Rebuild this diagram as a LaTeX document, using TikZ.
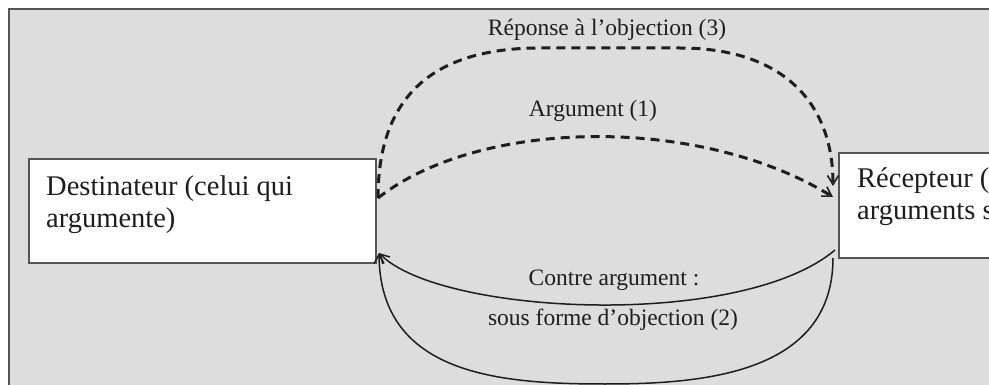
\documentclass[tikz,border=0pt]{standalone}
\usepackage{fontspec}
\setmainfont{Liberation Serif}
\usetikzlibrary{arrows.meta}
\definecolor{panel}{RGB}{221,221,221}
\definecolor{edge}{RGB}{85,85,85}
\definecolor{ink}{RGB}{30,30,30}
\tikzset{
  boxnode/.style={draw=edge, line width=1.8pt, fill=white, anchor=north west, inner sep=0pt},
  boxtext/.style={anchor=base west, inner sep=0pt, text=ink, font=\fontsize{28.5}{32}\selectfont},
  lbl/.style={inner sep=0pt, text=ink, font=\fontsize{23.5}{26}\selectfont},
  dasharrow/.style={draw=ink, line width=3pt, dash pattern=on 9pt off 6pt, -{Straight Barb[length=9pt,width=11pt,line width=1.6pt]}},
  solidarrow/.style={draw=ink, line width=1.5pt, -{Straight Barb[length=9pt,width=10pt,line width=1.5pt]}}
}
\begin{document}
\begin{tikzpicture}[x=1pt,y=-1pt]
\useasboundingbox (0,0) rectangle (989,385);
\clip (0,0) rectangle (989,385);
\fill[white] (0,0) rectangle (989,385);
\fill[panel] (9,9) rectangle (1000,400);
\draw[edge, line width=2.5pt] (9,400) -- (9,9) -- (1000,9);
% boxes
\node[boxnode, minimum width=347pt, minimum height=104pt] (dest) at (28,158) {};
\node[boxnode, minimum width=260pt, minimum height=105pt] (recep) at (838,152) {};
\node[boxtext] (desttext1) at (46,196) {Destinateur (celui qui};
\node[boxtext] (desttext2) at (46,228) {argumente)};
\node[boxtext] (receptext1) at (857,188) {Récepteur (};
\node[boxtext] (receptext2) at (857,220) {arguments s};
% anchor coordinates on box edges
\coordinate (dA) at (378,198);
\coordinate (rA) at (833,197);
\coordinate (rR) at (833,186);
\coordinate (rC) at (835,250);
\coordinate (rO) at (833,258);
\coordinate (dC) at (379,253);
% dashed arrows
\draw[dasharrow] (dA) .. controls (480,118) and (700,115) .. (rA);
\draw[dasharrow] (dA) .. controls (378,90) and (440,48) .. (540,48) -- (680,48) .. controls (780,48) and (833,100) .. (rR);
% solid arrows
\draw[solidarrow] (rC) .. controls (740,330) and (440,315) .. (dC);
\draw[solidarrow] (rO) .. controls (833,375) and (700,384) .. (605,384) .. controls (500,384) and (380,375) .. (dC);
% labels
\node[lbl] (l3) at (607,30) {Réponse à l’objection (3)};
\node[lbl] (l1) at (593,111) {Argument (1)};
\node[lbl] (l2a) at (614,280) {Contre argument :};
\node[lbl] (l2b) at (613,320) {sous forme d’objection (2)};
\end{tikzpicture}
\end{document}
